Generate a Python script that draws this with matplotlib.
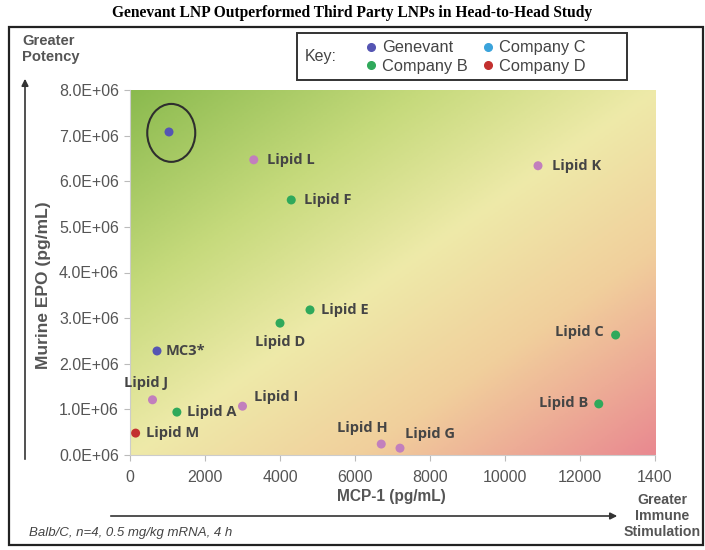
import numpy as np
import matplotlib
matplotlib.use("Agg")
import matplotlib.pyplot as plt
from matplotlib.colors import LinearSegmentedColormap
from matplotlib.patches import Ellipse, Rectangle, FancyArrowPatch
from matplotlib.lines import Line2D

# data
names = ["Genevant", "MC3*", "Lipid J", "Lipid A", "Lipid M", "Lipid I", "Lipid D",
         "Lipid E", "Lipid L", "Lipid F", "Lipid K", "Lipid C", "Lipid B", "Lipid H", "Lipid G"]
mcp1 = [1040, 720, 600, 1250, 150, 3000, 4000, 4800, 3300, 4300, 10880, 12950, 12500, 6700, 7200]
epo = [7.08e6, 2.28e6, 1.21e6, 0.94e6, 0.48e6, 1.07e6, 2.89e6, 3.18e6, 6.47e6, 5.59e6,
       6.34e6, 2.63e6, 1.12e6, 0.24e6, 0.15e6]
company = ["Genevant", "Genevant", "Other", "Company B", "Company D", "Other", "Company B",
           "Company B", "Other", "Company B", "Other", "Company B", "Company B", "Other", "Other"]
xticks = [0, 2000, 4000, 6000, 8000, 10000, 12000, 14000]
xticklabels = ["0", "2000", "4000", "6000", "8000", "10000", "12000", "1400"]
yticks = [0, 1e6, 2e6, 3e6, 4e6, 5e6, 6e6, 7e6, 8e6]
yticklabels = ["0.0E+06", "1.0E+06", "2.0E+06", "3.0E+06", "4.0E+06", "5.0E+06",
               "6.0E+06", "7.0E+06", "8.0E+06"]
legend_names = ["Genevant", "Company B", "Company C", "Company D"]

colors = {"Genevant": "#5555b3", "Company B": "#2fa95b", "Company C": "#3ba3db",
          "Company D": "#c3302f", "Other": "#c27fbd"}

# label placement (pixel offsets from the point, ha, va)
label_pos = {
    "MC3*": (9, 0, "left", "center"),
    "Lipid J": (-6, 17, "center", "center"),
    "Lipid A": (10, 0, "left", "center"),
    "Lipid M": (10, 0, "left", "center"),
    "Lipid I": (11, 9, "left", "center"),
    "Lipid D": (0, -19, "center", "center"),
    "Lipid E": (11, 0, "left", "center"),
    "Lipid L": (13, 0, "left", "center"),
    "Lipid F": (13, 0, "left", "center"),
    "Lipid K": (14, 0, "left", "center"),
    "Lipid C": (-12, 3, "right", "center"),
    "Lipid B": (-11, 1, "right", "center"),
    "Lipid H": (-19, 16, "center", "center"),
    "Lipid G": (5, 14, "left", "center"),
}

W, H = 705, 550
fig = plt.figure(figsize=(W / 100, H / 100), dpi=100)

def fx(px):
    return px / W

def fy(py):
    return 1 - py / H

gray = "#555555"
ax = fig.add_axes([fx(130), fy(455), fx(655) - fx(130), fy(90) - fy(455)])

# background gradient: green top-left -> yellow -> red bottom-right
cmap = LinearSegmentedColormap.from_list(
    "bg", [(0, "#8aba4e"), (0.28, "#c6da7c"), (0.5, "#eeeaa9"), (0.72, "#f1cf9c"), (1, "#e98990")])
xn = np.linspace(0, 1, 300)
yn = np.linspace(1, 0, 200)
XX, YY = np.meshgrid(xn, yn)
T = (XX + (1 - YY)) / 2
ax.imshow(T, cmap=cmap, extent=(0, 14000, 0, 8e6), aspect="auto", origin="upper", zorder=0)

for x, y, c in zip(mcp1, epo, company):
    ax.scatter(x, y, s=42, color=colors[c], edgecolors="none", zorder=3)

for n, x, y in zip(names, mcp1, epo):
    if n in label_pos:
        dx, dy, ha, va = label_pos[n]
        ax.annotate(n, (x, y), xytext=(dx, dy), textcoords="offset pixels", ha=ha, va=va,
                    fontsize=10.5, fontweight="bold", family="Open Sans", color="#454545", zorder=4)

# circle around the Genevant lead
ax.add_patch(Ellipse((mcp1[0] + 60, epo[0] - 20000), 1280, 1.27e6, fill=False,
                     edgecolor="#2e2e2e", lw=1.5, zorder=4))

ax.set_xlim(0, 14000)
ax.set_ylim(0, 8e6)
ax.set_xticks(xticks)
ax.set_xticklabels(xticklabels)
ax.set_yticks(yticks)
ax.set_yticklabels(yticklabels)
ax.tick_params(colors="#bbbbbb", labelcolor=gray, length=4, width=0.8, labelsize=11.5)
ax.tick_params(axis="x", pad=7)
ax.tick_params(axis="y", pad=4)
for lab in ax.get_xticklabels() + ax.get_yticklabels():
    lab.set_family("Liberation Sans")
for s in ["top", "right"]:
    ax.spines[s].set_visible(False)
for s in ["left", "bottom"]:
    ax.spines[s].set_color("#cccccc")
    ax.spines[s].set_linewidth(0.8)

fig.text(fx(44), fy(285), "Murine EPO (pg/mL)", rotation=90, ha="center", va="center",
         fontsize=12.5, fontweight="bold", color=gray, family="Liberation Sans")
fig.text(fx(391), fy(497), "MCP-1 (pg/mL)", ha="center", va="center",
         fontsize=11.2, fontweight="bold", color=gray, family="Liberation Sans")

# title and outer frame
fig.text(0.5, fy(13), "Genevant LNP Outperformed Third Party LNPs in Head-to-Head Study",
         ha="center", va="center", fontsize=11.2, fontweight="bold", family="Liberation Serif")
fig.patches.append(Rectangle((fx(9), fy(545)), fx(703) - fx(9), fy(27) - fy(545),
                             transform=fig.transFigure, fill=False, edgecolor="#222222", lw=1.6))

# potency / immune stimulation arrows
fig.text(fx(22), fy(49), "Greater\nPotency", ha="left", va="center", fontsize=10.6,
         fontweight="bold", color=gray, family="Liberation Sans", linespacing=1.2)
fig.patches.append(FancyArrowPatch((fx(25), fy(462)), (fx(25), fy(76)), transform=fig.transFigure,
                                   arrowstyle="-|>", mutation_scale=10, color="#333333", lw=1.2))
fig.patches.append(FancyArrowPatch((fx(108), fy(516)), (fx(620), fy(516)), transform=fig.transFigure,
                                   arrowstyle="-|>", mutation_scale=10, color="#333333", lw=1.2))
fig.text(fx(662), fy(516), "Greater\nImmune\nStimulation", ha="center", va="center", fontsize=10.2,
         fontweight="bold", color=gray, family="Liberation Sans", linespacing=1.2)
fig.text(fx(29), fy(533), "Balb/C, n=4, 0.5 mg/kg mRNA, 4 h", ha="left", va="center",
         fontsize=9.5, style="italic", color="#444444", family="Liberation Sans")

# key box
fig.patches.append(Rectangle((fx(297), fy(80)), fx(627) - fx(297), fy(33) - fy(80),
                             transform=fig.transFigure, fill=False, edgecolor="#333333", lw=1.4))
fig.text(fx(305), fy(57), "Key:", ha="left", va="center", fontsize=11.5, color="#444444",
         family="Liberation Sans")
handles = [Line2D([], [], ls="none", marker="o", ms=5.5, color=colors[n], label=n) for n in legend_names]
fig.legend(handles=handles, ncol=2, frameon=False, loc="center left",
           bbox_to_anchor=(fx(356), fy(57)), handletextpad=0.3,
           handlelength=0.8, columnspacing=0.8, labelspacing=0.2,
           prop={"family": "Liberation Sans", "size": 11.8}, labelcolor="#444444", borderpad=0)

fig.savefig("out.png", dpi=100)
